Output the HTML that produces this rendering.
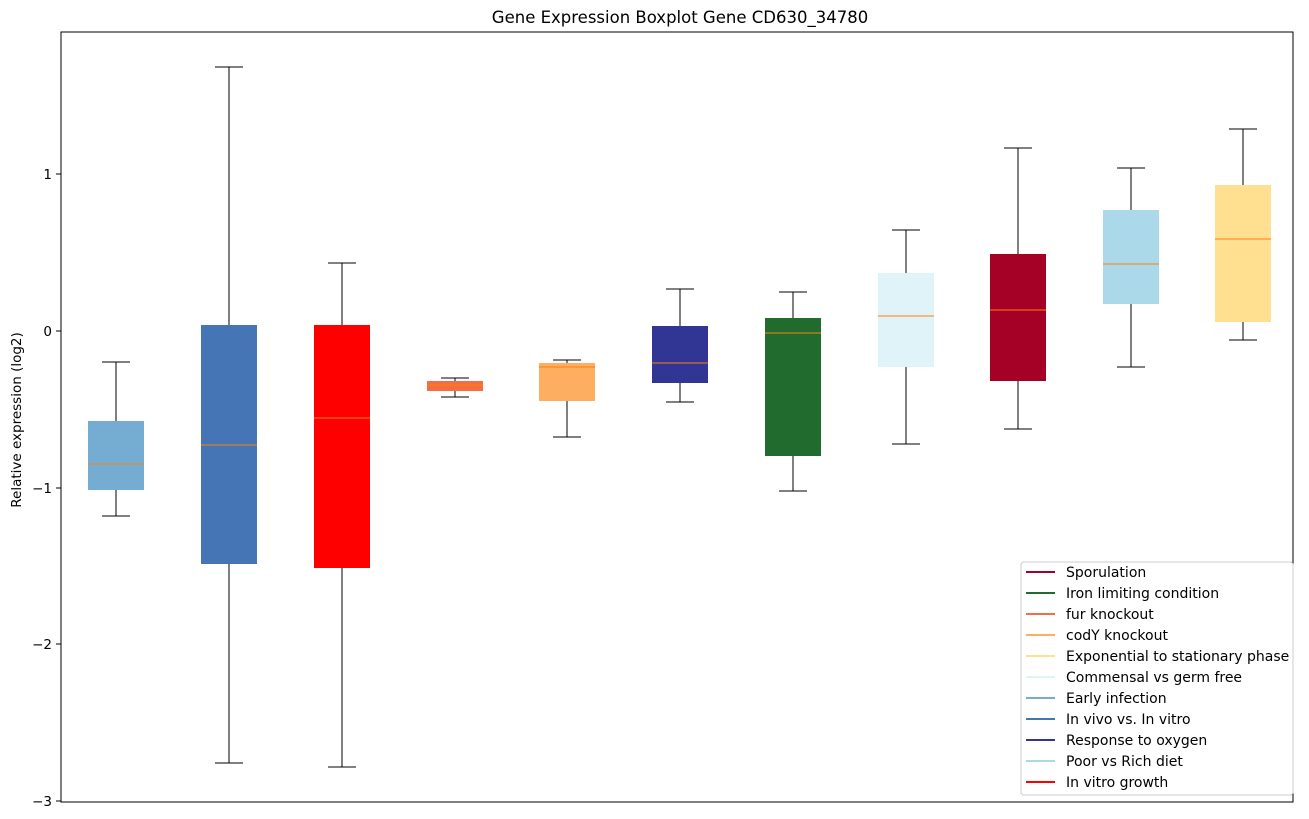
<!DOCTYPE html>
<html><head><style>body{margin:0;background:#fff}svg{display:block;font-family:"DejaVu Sans","Liberation Sans",sans-serif}</style></head><body>
<svg width="1309" height="819" xmlns="http://www.w3.org/2000/svg" shape-rendering="crispEdges">
<text x="680" y="23" font-size="16.5" text-anchor="middle" fill="#000">Gene Expression Boxplot Gene CD630_34780</text>
<text transform="translate(21,420) rotate(-90)" font-size="13.5" text-anchor="middle">Relative expression (log2)</text>
<g font-size="13.5" text-anchor="end" fill="#000">
<line x1="56" x2="61" y1="174" y2="174" stroke="#000"/><text x="52" y="179">1</text>
<line x1="56" x2="61" y1="331" y2="331" stroke="#000"/><text x="52" y="336">0</text>
<line x1="56" x2="61" y1="488" y2="488" stroke="#000"/><text x="52" y="493">−1</text>
<line x1="56" x2="61" y1="644" y2="644" stroke="#000"/><text x="52" y="649">−2</text>
<line x1="56" x2="61" y1="801" y2="801" stroke="#000"/><text x="52" y="806">−3</text>
</g>
<g stroke="#000" stroke-width="1">
<line x1="116" x2="116" y1="362" y2="421"/><line x1="116" x2="116" y1="490" y2="516"/><line x1="102" x2="130" y1="362" y2="362"/><line x1="102" x2="130" y1="516" y2="516"/>
<rect x="88" y="421" width="56" height="69" fill="#74add1" stroke="none"/><line x1="88" x2="144" y1="464" y2="464" stroke="#ff7f0e"/>
<line x1="229" x2="229" y1="67" y2="325"/><line x1="229" x2="229" y1="564" y2="763"/><line x1="215" x2="243" y1="67" y2="67"/><line x1="215" x2="243" y1="763" y2="763"/>
<rect x="201" y="325" width="56" height="239" fill="#4575b4" stroke="none"/><line x1="201" x2="257" y1="445" y2="445" stroke="#ff7f0e"/>
<line x1="342" x2="342" y1="263" y2="325"/><line x1="342" x2="342" y1="568" y2="767"/><line x1="328" x2="356" y1="263" y2="263"/><line x1="328" x2="356" y1="767" y2="767"/>
<rect x="314" y="325" width="56" height="243" fill="#ff0000" stroke="none"/><line x1="314" x2="370" y1="418" y2="418" stroke="#ff7f0e"/>
<line x1="455" x2="455" y1="378" y2="381"/><line x1="455" x2="455" y1="391" y2="397"/><line x1="441" x2="469" y1="378" y2="378"/><line x1="441" x2="469" y1="397" y2="397"/>
<rect x="427" y="381" width="56" height="10" fill="#f46d43" stroke="none"/><line x1="427" x2="483" y1="385" y2="385" stroke="#ff7f0e"/>
<line x1="567" x2="567" y1="360" y2="363"/><line x1="567" x2="567" y1="401" y2="437"/><line x1="553" x2="581" y1="360" y2="360"/><line x1="553" x2="581" y1="437" y2="437"/>
<rect x="539" y="363" width="56" height="38" fill="#fdae61" stroke="none"/><line x1="539" x2="595" y1="367" y2="367" stroke="#ff7f0e"/>
<line x1="680" x2="680" y1="289" y2="326"/><line x1="680" x2="680" y1="383" y2="402"/><line x1="666" x2="694" y1="289" y2="289"/><line x1="666" x2="694" y1="402" y2="402"/>
<rect x="652" y="326" width="56" height="57" fill="#313695" stroke="none"/><line x1="652" x2="708" y1="363" y2="363" stroke="#ff7f0e"/>
<line x1="793" x2="793" y1="292" y2="318"/><line x1="793" x2="793" y1="456" y2="491"/><line x1="779" x2="807" y1="292" y2="292"/><line x1="779" x2="807" y1="491" y2="491"/>
<rect x="765" y="318" width="56" height="138" fill="#226b2e" stroke="none"/><line x1="765" x2="821" y1="333" y2="333" stroke="#ff7f0e"/>
<line x1="906" x2="906" y1="230" y2="273"/><line x1="906" x2="906" y1="367" y2="444"/><line x1="892" x2="920" y1="230" y2="230"/><line x1="892" x2="920" y1="444" y2="444"/>
<rect x="878" y="273" width="56" height="94" fill="#e0f3f8" stroke="none"/><line x1="878" x2="934" y1="316" y2="316" stroke="#ff7f0e"/>
<line x1="1018" x2="1018" y1="148" y2="254"/><line x1="1018" x2="1018" y1="381" y2="429"/><line x1="1004" x2="1032" y1="148" y2="148"/><line x1="1004" x2="1032" y1="429" y2="429"/>
<rect x="990" y="254" width="56" height="127" fill="#a50026" stroke="none"/><line x1="990" x2="1046" y1="310" y2="310" stroke="#ff7f0e"/>
<line x1="1131" x2="1131" y1="168" y2="210"/><line x1="1131" x2="1131" y1="304" y2="367"/><line x1="1117" x2="1145" y1="168" y2="168"/><line x1="1117" x2="1145" y1="367" y2="367"/>
<rect x="1103" y="210" width="56" height="94" fill="#abd9e9" stroke="none"/><line x1="1103" x2="1159" y1="264" y2="264" stroke="#ff7f0e"/>
<line x1="1243" x2="1243" y1="129" y2="185"/><line x1="1243" x2="1243" y1="322" y2="340"/><line x1="1229" x2="1257" y1="129" y2="129"/><line x1="1229" x2="1257" y1="340" y2="340"/>
<rect x="1215" y="185" width="56" height="137" fill="#fee090" stroke="none"/><line x1="1215" x2="1271" y1="239" y2="239" stroke="#ff7f0e"/>
</g>
<rect x="61" y="32" width="1232" height="770" fill="none" stroke="#000"/>
<rect x="1021" y="562" width="272" height="233" rx="3" fill="#fff" stroke="#ccc"/>
<g font-size="14" fill="#000" stroke-width="2">
<line x1="1026" x2="1055" y1="572" y2="572" stroke="#a50026"/><text x="1066" y="577">Sporulation</text>
<line x1="1026" x2="1055" y1="593" y2="593" stroke="#226b2e"/><text x="1066" y="598">Iron limiting condition</text>
<line x1="1026" x2="1055" y1="614" y2="614" stroke="#f46d43"/><text x="1066" y="619">fur knockout</text>
<line x1="1026" x2="1055" y1="635" y2="635" stroke="#fdae61"/><text x="1066" y="640">codY knockout</text>
<line x1="1026" x2="1055" y1="656" y2="656" stroke="#fee090"/><text x="1066" y="661">Exponential to stationary phase</text>
<line x1="1026" x2="1055" y1="677" y2="677" stroke="#e0f3f8"/><text x="1066" y="682">Commensal vs germ free</text>
<line x1="1026" x2="1055" y1="698" y2="698" stroke="#74add1"/><text x="1066" y="703">Early infection</text>
<line x1="1026" x2="1055" y1="719" y2="719" stroke="#4575b4"/><text x="1066" y="724">In vivo vs. In vitro</text>
<line x1="1026" x2="1055" y1="740" y2="740" stroke="#313695"/><text x="1066" y="745">Response to oxygen</text>
<line x1="1026" x2="1055" y1="761" y2="761" stroke="#abd9e9"/><text x="1066" y="766">Poor vs Rich diet</text>
<line x1="1026" x2="1055" y1="782" y2="782" stroke="#ff0000"/><text x="1066" y="787">In vitro growth</text>
</g>
</svg>
</body></html>
